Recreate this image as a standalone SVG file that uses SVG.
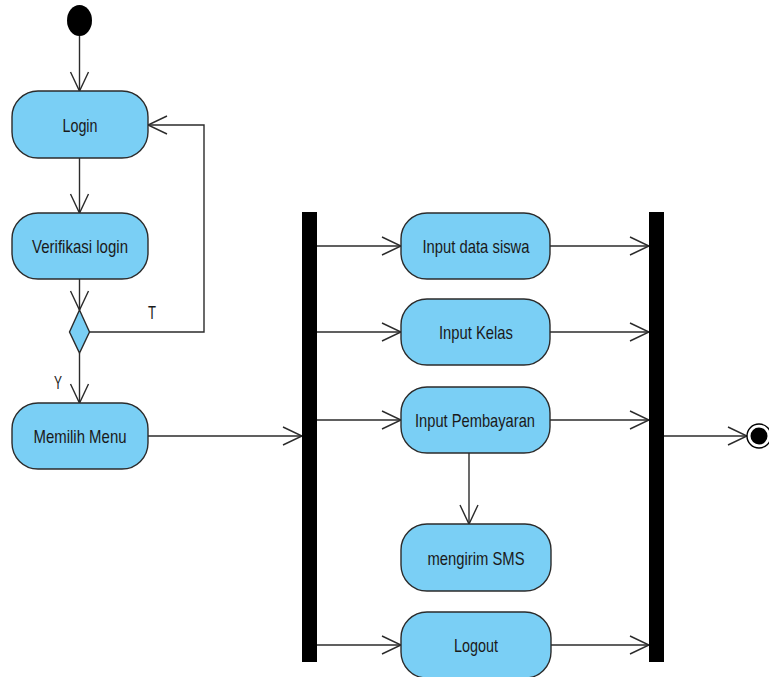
<svg xmlns="http://www.w3.org/2000/svg" width="769" height="677" viewBox="0 0 769 677">
<defs>
<style>
.act{fill:#7acff5;stroke:#2b2b2b;stroke-width:1.4}
.lbl{font-family:"Liberation Sans",Arial,sans-serif;font-size:19px;fill:#1a1a1a;text-anchor:middle}
.edge{fill:none;stroke:#2b2b2b;stroke-width:1.4}
.bar{fill:#000}
</style>
<marker id="arr" markerUnits="userSpaceOnUse" markerWidth="24" markerHeight="22" refX="21" refY="10" orient="auto">
<path d="M2,1 L21,10 L2,19" fill="none" stroke="#2b2b2b" stroke-width="1.4"/>
</marker>
</defs>
<rect width="769" height="677" fill="#fff"/>
<g id="connectors">
<line class="edge" x1="79.5" y1="36" x2="79.5" y2="91" marker-end="url(#arr)"/>
<line class="edge" x1="79.5" y1="158" x2="79.5" y2="213" marker-end="url(#arr)"/>
<line class="edge" x1="79.5" y1="279" x2="79.5" y2="310" marker-end="url(#arr)"/>
<polyline class="edge" points="89,332 204,332 204,125 148,125" marker-end="url(#arr)"/>
<line class="edge" x1="79.5" y1="353" x2="79.5" y2="403" marker-end="url(#arr)"/>
<line class="edge" x1="148" y1="436" x2="302" y2="436" marker-end="url(#arr)"/>
<line class="edge" x1="317" y1="246" x2="401" y2="246" marker-end="url(#arr)"/>
<line class="edge" x1="317" y1="332" x2="401" y2="332" marker-end="url(#arr)"/>
<line class="edge" x1="317" y1="420" x2="401" y2="420" marker-end="url(#arr)"/>
<line class="edge" x1="317" y1="645" x2="401" y2="645" marker-end="url(#arr)"/>
<line class="edge" x1="550" y1="246" x2="649" y2="246" marker-end="url(#arr)"/>
<line class="edge" x1="550" y1="332" x2="649" y2="332" marker-end="url(#arr)"/>
<line class="edge" x1="550" y1="420" x2="649" y2="420" marker-end="url(#arr)"/>
<line class="edge" x1="550" y1="645" x2="649" y2="645" marker-end="url(#arr)"/>
<line class="edge" x1="469" y1="453" x2="469" y2="524" marker-end="url(#arr)"/>
<line class="edge" x1="664" y1="436" x2="747" y2="436" marker-end="url(#arr)"/>
<text class="lbl" x="152" y="319" font-size="17" textLength="8" lengthAdjust="spacingAndGlyphs">T</text>
<text class="lbl" x="58" y="389" font-size="17" textLength="8" lengthAdjust="spacingAndGlyphs">Y</text>
</g>
<g id="start"><ellipse cx="79.5" cy="20.5" rx="12.5" ry="15.5" fill="#000"/></g>
<g id="login"><rect class="act" x="12" y="91" width="136" height="67" rx="26"/><text class="lbl" x="80" y="132" textLength="35" lengthAdjust="spacingAndGlyphs">Login</text></g>
<g id="verifikasi"><rect class="act" x="12" y="213" width="136" height="66" rx="26"/><text class="lbl" x="80" y="253" textLength="96" lengthAdjust="spacingAndGlyphs">Verifikasi login</text></g>
<g id="decision"><polygon class="act" points="79.5,310 89.5,332 79.5,353 69.5,332"/></g>
<g id="memilih"><rect class="act" x="12" y="403" width="136" height="66" rx="26"/><text class="lbl" x="80" y="443" textLength="93" lengthAdjust="spacingAndGlyphs">Memilih Menu</text></g>
<g id="fork"><rect class="bar" x="302" y="212" width="15" height="450"/></g>
<g id="inputsiswa"><rect class="act" x="401" y="213" width="149" height="66" rx="26"/><text class="lbl" x="476" y="253" textLength="107" lengthAdjust="spacingAndGlyphs">Input data siswa</text></g>
<g id="inputkelas"><rect class="act" x="401" y="299" width="149" height="66" rx="26"/><text class="lbl" x="476" y="339" textLength="74" lengthAdjust="spacingAndGlyphs">Input Kelas</text></g>
<g id="inputbayar"><rect class="act" x="401" y="387" width="149" height="66" rx="26"/><text class="lbl" x="475" y="427" textLength="120" lengthAdjust="spacingAndGlyphs">Input Pembayaran</text></g>
<g id="sms"><rect class="act" x="401" y="524" width="150" height="67" rx="26"/><text class="lbl" x="476" y="565" textLength="97" lengthAdjust="spacingAndGlyphs">mengirim SMS</text></g>
<g id="logout"><rect class="act" x="401" y="612" width="150" height="66" rx="26"/><text class="lbl" x="476" y="652" textLength="44" lengthAdjust="spacingAndGlyphs">Logout</text></g>
<g id="join"><rect class="bar" x="649" y="212" width="15" height="450"/></g>
<g id="end"><circle cx="759" cy="436" r="12" fill="#fff" stroke="#000" stroke-width="1.4"/><circle cx="759" cy="436" r="8.5" fill="#000"/></g>
</svg>
